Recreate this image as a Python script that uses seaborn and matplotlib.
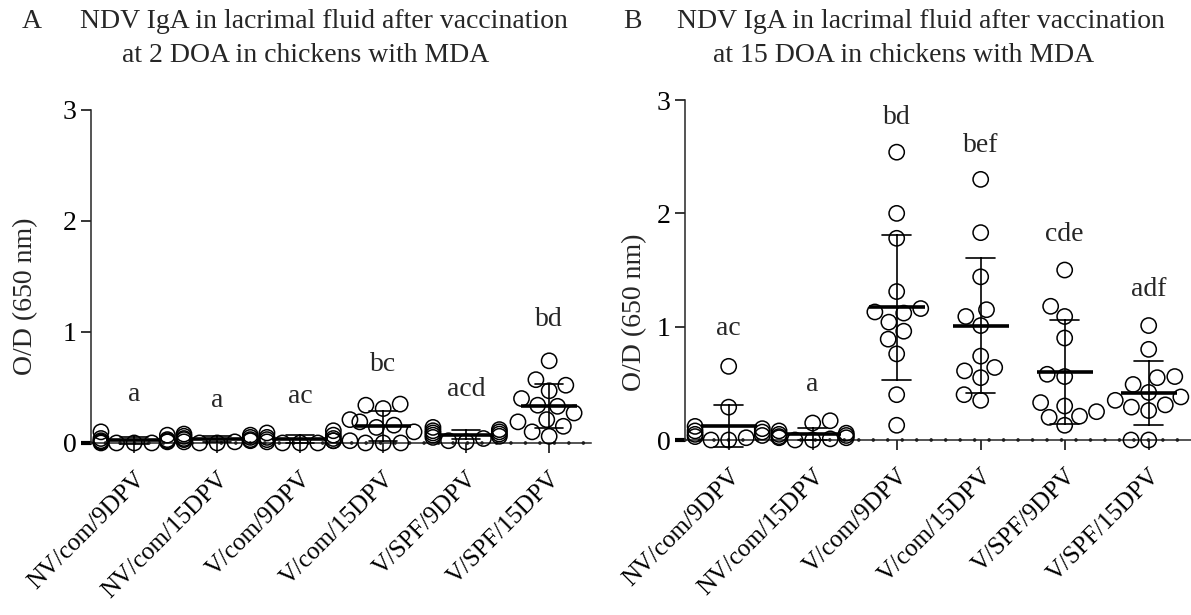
import numpy as np
import pandas as pd
import matplotlib
matplotlib.use("Agg")
import matplotlib.pyplot as plt
import seaborn as sns

sns.set_theme(style="ticks")
plt.rcParams["font.family"] = ["Liberation Serif", "DejaVu Serif"]

groups = ["NV/com/9DPV", "NV/com/15DPV", "V/com/9DPV",
          "V/com/15DPV", "V/SPF/9DPV", "V/SPF/15DPV"]

# Panel A: vaccination at 2 days of age (optical density, 650 nm)
a_nv_com_9 = [0.10, 0.07, 0.04, 0.03, 0.02, 0.02, 0.01, 0.01, 0.0, 0.0, 0.0, 0.0]
a_nv_com_15 = [0.08, 0.07, 0.06, 0.05, 0.04, 0.03, 0.03, 0.02, 0.01, 0.01, 0.0, 0.0]
a_v_com_9 = [0.11, 0.09, 0.07, 0.05, 0.04, 0.03, 0.02, 0.02, 0.01, 0.0, 0.0, 0.0]
a_v_com_15 = [0.35, 0.34, 0.31, 0.21, 0.19, 0.16, 0.14, 0.10, 0.02, 0.0, 0.0, 0.0]
a_v_spf_9 = [0.14, 0.12, 0.11, 0.10, 0.09, 0.08, 0.07, 0.06, 0.05, 0.04, 0.02, 0.01]
a_v_spf_15 = [0.74, 0.57, 0.52, 0.47, 0.40, 0.34, 0.33, 0.27, 0.21, 0.19, 0.15, 0.10, 0.06]
letters_a = ["a", "a", "ac", "bc", "acd", "bd"]
letter_y_a = [0.44, 0.38, 0.42, 0.71, 0.48, 1.11]

# Panel B: vaccination at 15 days of age
b_nv_com_9 = [0.65, 0.29, 0.12, 0.10, 0.08, 0.07, 0.05, 0.04, 0.03, 0.02, 0.0, 0.0]
b_nv_com_15 = [0.17, 0.15, 0.08, 0.06, 0.05, 0.04, 0.03, 0.02, 0.02, 0.01, 0.0, 0.0]
b_v_com_9 = [2.54, 2.00, 1.78, 1.31, 1.16, 1.13, 1.12, 1.04, 0.96, 0.89, 0.76, 0.40, 0.13]
b_v_com_15 = [2.30, 1.83, 1.44, 1.15, 1.09, 1.01, 0.74, 0.64, 0.61, 0.55, 0.40, 0.35]
b_v_spf_9 = [1.50, 1.18, 1.09, 0.90, 0.58, 0.56, 0.33, 0.30, 0.25, 0.21, 0.20, 0.13]
b_v_spf_15 = [1.01, 0.80, 0.56, 0.55, 0.49, 0.42, 0.38, 0.35, 0.31, 0.29, 0.26, 0.0, 0.0]
letters_b = ["ac", "a", "bd", "bef", "cde", "adf"]
letter_y_b = [0.98, 0.49, 2.85, 2.60, 1.81, 1.33]

values_a = [a_nv_com_9, a_nv_com_15, a_v_com_9, a_v_com_15, a_v_spf_9, a_v_spf_15]
values_b = [b_nv_com_9, b_nv_com_15, b_v_com_9, b_v_com_15, b_v_spf_9, b_v_spf_15]

FS = 20
FS_CAT = 18
W, H = 1191, 615
fig = plt.figure(figsize=(W / 100, H / 100), dpi=100)


def draw_panel(ax, values, letters, letter_y, xmax):
    df = pd.DataFrame({
        "group": np.repeat(groups, [len(v) for v in values]),
        "od": np.concatenate(values),
    })
    sns.swarmplot(data=df, x="group", y="od", order=groups, ax=ax,
                  size=11, marker="o", color="white", edgecolor="black",
                  linewidth=1.1, warn_thresh=1, zorder=3)
    for coll in ax.collections:
        coll.set_facecolor("none")
        coll.set_edgecolor("black")
    sns.pointplot(data=df, x="group", y="od", order=groups, ax=ax,
                  estimator="mean", errorbar="sd", color="black",
                  linestyle="none", marker="_", markersize=40,
                  markeredgewidth=2.6, capsize=0.34,
                  err_kws={"linewidth": 1.2}, zorder=4)
    for i, (lab, y) in enumerate(zip(letters, letter_y)):
        ax.text(i, y, lab, ha="center", va="center", fontsize=FS)

    ax.set_xlim(-0.52, xmax)
    ax.set_ylim(-0.15, 3.05)
    ax.set_yticks([0, 1, 2, 3])
    ax.set_xticks(range(len(groups)))
    ax.set_xticklabels(groups)
    ax.set_xlabel("")
    ax.set_ylabel("O/D (650 nm)", fontsize=FS)

    for s in ["top", "right"]:
        ax.spines[s].set_visible(False)
    ax.spines["left"].set_bounds(0, 3)
    ax.spines["left"].set_linewidth(1.1)
    ax.spines["bottom"].set_position(("data", 0))
    ax.spines["bottom"].set_linewidth(1.1)
    ax.tick_params(axis="both", colors="black", length=7, width=1.1,
                   direction="out", labelsize=FS)
    ax.tick_params(axis="x", pad=11, labelrotation=45, labelsize=FS_CAT)
    # dotted baseline at zero
    ax.axhline(0, color="black", lw=2.6, ls=(0, (0.01, 4)),
               dash_capstyle="round", zorder=2)


def finish_ticks(ax):
    for lab in ax.get_xticklabels():
        lab.set_rotation(45)
        lab.set_ha("right")
        lab.set_va("top")
        lab.set_rotation_mode("anchor")
        lab.set_fontsize(FS_CAT)
    ax.yaxis.get_major_ticks()[0].tick1line.set_markeredgewidth(3)


# panel A: 83 px per group, 111 px per OD unit
axA = fig.add_axes([91 / W, 1 - 459.6 / H, 6.02 * 83 / W, 355.2 / H])
draw_panel(axA, values_a, letters_a, letter_y_a, 5.5)
axA.yaxis.set_label_coords(-0.105, 0.46)

# panel B: 84 px per group, 113.3 px per OD unit
axB = fig.add_axes([685 / W, 1 - 457 / H, 6.02 * 84 / W, 362.6 / H])
draw_panel(axB, values_b, letters_b, letter_y_b, 5.5)
axB.yaxis.set_label_coords(-0.075, 0.40)

fig.text(32 / W, 1 - 21 / H, "A", ha="center", va="center", fontsize=FS)
fig.text(80 / W, 1 - 21 / H, "NDV IgA in lacrimal fluid after vaccination",
         ha="left", va="center", fontsize=FS)
fig.text(122 / W, 1 - 55 / H, "at 2 DOA in chickens with MDA",
         ha="left", va="center", fontsize=FS)
fig.text(632 / W, 1 - 21 / H, "B", ha="center", va="center", fontsize=FS)
fig.text(677 / W, 1 - 21 / H, "NDV IgA in lacrimal fluid after vaccination",
         ha="left", va="center", fontsize=FS)
fig.text(713 / W, 1 - 55 / H, "at 15 DOA in chickens with MDA",
         ha="left", va="center", fontsize=FS)

fig.canvas.draw()
finish_ticks(axA)
finish_ticks(axB)

fig.savefig("out.png", dpi=100, facecolor="white")
